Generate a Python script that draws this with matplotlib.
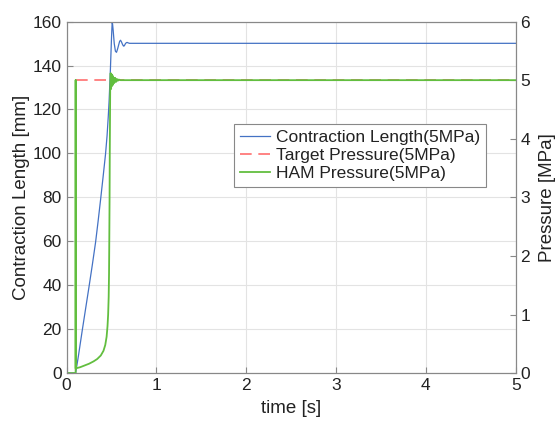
import matplotlib
matplotlib.use("Agg")
import matplotlib.pyplot as plt

plt.rcParams['font.family'] = ['Liberation Sans', 'DejaVu Sans']

# Contraction length (left axis)
t_len = [0, 0.1, 0.13, 0.174, 0.21, 0.248, 0.285, 0.322, 0.35, 0.378, 0.405, 0.433,
         0.45, 0.463, 0.473, 0.48, 0.487, 0.493, 0.499, 0.504, 0.507, 0.511,
         0.518, 0.53, 0.543, 0.555, 0.567, 0.58, 0.59, 0.60, 0.61, 0.62, 0.63,
         0.637, 0.645, 0.655, 0.665, 0.674, 0.685, 0.70, 5.0]
length_mm = [0, 0, 7.5, 19.5, 29, 39, 49, 59.5, 69, 79, 89, 99.7,
             108, 116.5, 124, 131, 138, 145, 152, 157, 159.5, 159,
             156, 150, 146.5, 146, 147.5, 149.5, 151, 151.5, 150.8, 149.8, 149,
             148.8, 149.2, 150, 150.4, 150.5, 150.3, 150.1, 150.1]

# Target pressure (right axis)
t_tgt = [0.1, 5.0]
p_tgt = [5.0, 5.0]

# HAM pressure (right axis)
t_ham = [0, 0.1, 0.1, 0.1, 0.15, 0.2, 0.25, 0.3, 0.34, 0.38, 0.41, 0.43, 0.445,
         0.455, 0.462, 0.468, 0.472, 0.475, 0.478, 0.48, 0.483, 0.485,
         0.49, 0.495, 0.50, 0.505, 0.51, 0.515, 0.52, 0.53, 0.54, 0.55, 0.56, 0.57,
         0.58, 0.60, 0.62, 5.0]
p_ham = [0, 0, 5, 0.08, 0.1, 0.13, 0.16, 0.2, 0.24, 0.3, 0.38, 0.48, 0.62,
         0.8, 1.0, 1.3, 1.7, 2.3, 3.0, 3.7, 4.4, 4.85,
         5.12, 4.85, 5.1, 4.9, 5.08, 4.92, 5.05, 4.95, 5.04, 4.97, 5.02, 4.99,
         5.01, 5.0, 5.0, 5.0]

x_ticks = [0, 1, 2, 3, 4, 5]
left_ticks = [0, 20, 40, 60, 80, 100, 120, 140, 160]
right_ticks = [0, 1, 2, 3, 4, 5, 6]

blue = '#4472C4'
red = '#FF6E6E'
green = '#62BE3F'
spine_c = '#888888'

fig = plt.figure(figsize=(5.6, 4.23), dpi=100)
ax = fig.add_axes([0.119, 0.118, 0.802, 0.831])
ax2 = ax.twinx()

l1, = ax.plot(t_len, length_mm, color=blue, lw=0.9, label='Contraction Length(5MPa)')
l2, = ax2.plot(t_tgt, p_tgt, color=red, lw=1.2, dashes=(7, 4), label='Target Pressure(5MPa)')
l3, = ax2.plot(t_ham, p_ham, color=green, lw=1.3, label='HAM Pressure(5MPa)')

ax.set_xlim(0, 5)
ax.set_ylim(0, 160)
ax2.set_ylim(0, 6)
ax.set_xticks(x_ticks)
ax.set_yticks(left_ticks)
ax2.set_yticks(right_ticks)

ax.grid(True, color='#E3E3E3', lw=0.8)
ax.set_axisbelow(True)

for a in (ax, ax2):
    for s in a.spines.values():
        s.set_color(spine_c)
        s.set_linewidth(0.8)
    a.tick_params(direction='in', color=spine_c, labelsize=12.5, labelcolor='#222222', length=4)

ax.set_xlabel('time [s]', fontsize=13.5, color='#222222', labelpad=5)
ax.set_ylabel('Contraction Length [mm]', fontsize=13.5, color='#222222', labelpad=2)
ax2.set_ylabel('Pressure [MPa]', fontsize=13.5, color='#222222', labelpad=6)

leg = ax2.legend(handles=[l1, l2, l3], loc='upper left', bbox_to_anchor=(0.373, 0.708),
                 borderaxespad=0, fancybox=False, edgecolor='#888888', fontsize=12.5,
                 handlelength=1.7, handletextpad=0.35, labelspacing=0.15, borderpad=0.35,
                 framealpha=1)
leg.get_frame().set_linewidth(0.8)
for txt in leg.get_texts():
    txt.set_color('#222222')

fig.savefig('out.png', dpi=100)
